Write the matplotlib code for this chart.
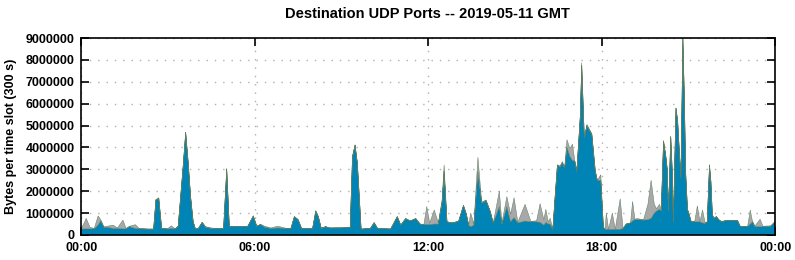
import numpy as np
import matplotlib
matplotlib.use("Agg")
import matplotlib.pyplot as plt

plt.rcParams['font.family'] = ['Liberation Sans', 'DejaVu Sans']

# time of day in hours
hours = [0.00, 0.10, 0.17, 0.30, 0.45, 0.58, 0.67, 0.78, 0.90, 1.10, 1.25, 1.44, 1.55, 1.67, 1.87, 2.00,
         2.30, 2.50, 2.58, 2.68, 2.78, 3.00, 3.11, 3.25, 3.35, 3.52, 3.61, 3.70, 3.78, 3.87, 3.95, 4.05,
         4.18, 4.30, 4.50, 4.70, 4.92, 5.03, 5.12, 5.40, 5.75, 5.95, 6.07, 6.20, 6.35, 6.55, 6.80, 7.10,
         7.25, 7.37, 7.50, 7.62, 8.00, 8.11, 8.20, 8.30, 8.45, 8.60, 9.00, 9.30, 9.38, 9.47, 9.55, 9.63,
         9.68, 10.00, 10.13, 10.25, 10.70, 10.93, 11.05, 11.22, 11.38, 11.57, 11.72, 11.85, 11.95, 12.05,
         12.21, 12.35, 12.48, 12.55, 12.65, 12.80, 13.05, 13.22, 13.32, 13.40, 13.47, 13.58, 13.72, 13.85,
         14.00, 14.14, 14.25, 14.46, 14.55, 14.72, 14.85, 14.97, 15.10, 15.35, 15.55, 15.75, 15.87, 16.00,
         16.07, 16.15, 16.22, 16.31, 16.39, 16.47, 16.56, 16.64, 16.72, 16.80, 16.90, 16.99, 17.07, 17.14,
         17.26, 17.31, 17.37, 17.40, 17.49, 17.57, 17.66, 17.78, 17.85, 17.97, 18.06, 18.12, 18.16, 18.24,
         18.37, 18.47, 18.64, 18.74, 18.85, 19.00, 19.07, 19.15, 19.22, 19.45, 19.60, 19.71, 19.82, 19.90,
         20.00, 20.06, 20.14, 20.22, 20.27, 20.31, 20.39, 20.44, 20.48, 20.57, 20.63, 20.68, 20.74, 20.81,
         20.86, 20.91, 20.97, 21.03, 21.10, 21.22, 21.31, 21.40, 21.49, 21.58, 21.65, 21.73, 21.78, 21.83,
         21.88, 21.97, 22.05, 22.15, 22.30, 22.70, 22.80, 23.05, 23.14, 23.22, 23.30, 23.48, 23.58, 23.85,
         24.00]

# main port (blue), in millions of bytes per slot
blue = [0.28, 0.28, 0.28, 0.28, 0.28, 0.45, 0.65, 0.35, 0.35, 0.30, 0.30, 0.28, 0.28, 0.38, 0.30, 0.28,
        0.27, 0.27, 1.60, 1.67, 0.30, 0.27, 0.30, 0.27, 0.40, 3.10, 4.69, 3.27, 1.75, 0.60, 0.27, 0.30,
        0.58, 0.35, 0.30, 0.30, 0.30, 3.00, 0.40, 0.38, 0.38, 0.87, 0.40, 0.48, 0.35, 0.30, 0.32, 0.30,
        0.30, 0.84, 0.70, 0.30, 0.30, 1.10, 0.84, 0.30, 0.38, 0.32, 0.32, 0.35, 3.57, 4.11, 3.27, 1.43,
        0.27, 0.30, 0.55, 0.30, 0.27, 0.84, 0.45, 0.75, 0.64, 0.75, 0.50, 0.48, 0.48, 0.48,
        0.50, 0.50, 1.50, 2.90, 0.60, 0.55, 0.62, 1.35, 0.95, 0.45, 0.38, 0.45, 2.90, 1.46,
        1.57, 1.10, 0.55, 1.30, 0.50, 1.30, 0.60, 0.80, 0.55, 0.64, 0.60, 0.60, 0.58, 0.45,
        0.58, 0.50, 0.50, 0.26, 1.78, 3.20, 3.10, 3.30, 3.05, 4.00, 3.60, 3.40, 3.38, 2.90,
        5.41, 7.76, 5.56, 4.43, 5.00, 4.80, 4.60, 2.90, 2.50, 2.50, 0.35, 0.26, 0.26, 0.26,
        0.26, 0.26, 0.26, 0.30, 0.50, 0.55, 0.65, 0.70, 0.70, 0.68, 0.70, 0.76, 1.00, 1.10,
        1.17, 1.10, 4.30, 3.60, 3.00, 1.10, 4.50, 3.00, 0.60, 5.80, 5.20, 4.00, 2.60, 9.00,
        6.30, 2.75, 1.17, 0.93, 0.60, 0.60, 0.60, 0.60, 0.55, 0.53, 0.60, 3.20, 2.43, 0.93,
        0.76, 0.84, 0.70, 0.60, 0.66, 0.66, 0.38, 0.38, 0.50, 0.60, 0.38, 0.38, 0.38, 0.40,
        0.60]

# all ports together (top of grey area), in millions of bytes per slot
total = [0.30, 0.55, 0.76, 0.35, 0.30, 0.87, 0.70, 0.38, 0.40, 0.45, 0.32, 0.68, 0.30, 0.40, 0.47, 0.30,
         0.27, 0.27, 1.62, 1.70, 0.30, 0.30, 0.42, 0.28, 0.40, 3.12, 4.70, 3.30, 1.78, 0.62, 0.27, 0.30,
         0.58, 0.38, 0.32, 0.30, 0.30, 3.05, 0.40, 0.38, 0.38, 0.87, 0.40, 0.48, 0.40, 0.32, 0.40, 0.30,
         0.30, 0.84, 0.70, 0.30, 0.30, 1.10, 0.84, 0.32, 0.38, 0.32, 0.34, 0.35, 3.60, 4.12, 3.30, 1.45,
         0.27, 0.30, 0.58, 0.30, 0.28, 0.84, 0.45, 0.75, 0.64, 0.75, 0.50, 0.48, 1.30, 0.55,
         1.14, 0.55, 1.60, 3.20, 0.62, 0.55, 0.62, 1.35, 0.95, 0.45, 1.00, 0.50, 3.55, 1.50,
         1.60, 1.10, 0.55, 2.00, 0.55, 1.75, 0.95, 1.70, 0.58, 1.40, 0.62, 0.65, 1.43, 0.70,
         1.17, 0.60, 0.76, 0.26, 1.78, 3.20, 3.15, 3.35, 3.10, 4.35, 3.95, 4.15, 3.40, 2.95,
         5.45, 7.88, 5.60, 4.45, 5.05, 4.85, 4.62, 2.95, 2.50, 2.75, 0.35, 0.26, 1.00, 0.26,
         1.00, 0.26, 1.65, 0.30, 0.50, 0.55, 1.53, 0.72, 0.75, 0.70, 1.40, 2.50, 1.40, 1.20,
         1.40, 1.15, 4.30, 3.60, 3.00, 1.10, 4.50, 3.00, 0.60, 5.80, 5.20, 4.00, 2.60, 9.00,
         6.30, 2.75, 1.17, 0.93, 0.60, 0.62, 1.33, 0.62, 1.14, 0.55, 0.60, 3.20, 2.43, 0.93,
         0.76, 0.84, 0.70, 0.62, 0.66, 0.66, 0.38, 0.40, 1.14, 0.60, 0.40, 0.72, 0.40, 0.42,
         0.62]

xtick_pos = [0, 6, 12, 18, 24]
xtick_labels = ["00:00", "06:00", "12:00", "18:00", "00:00"]

h = np.array(hours)
b = np.array(blue) * 1e6
other = np.array(total) * 1e6 - b

fig = plt.figure(figsize=(7.95, 2.6), dpi=100)
ax = fig.add_axes([0.1023, 0.0962, 0.8727, 0.7576])

ax.stackplot(h, b, other, colors=['#0083b5', '#a8a8a8'],
             edgecolor=['#5d7f64', '#8c8c8c'], linewidth=0.35)

ax.set_xlim(0, 24)
ax.set_ylim(0, 9000000)
ax.set_xticks(xtick_pos)
ax.set_xticklabels(xtick_labels)
ax.set_yticks(np.arange(0, 9000001, 1000000))
ax.set_yticklabels([str(v) for v in range(0, 9000001, 1000000)])

ax.grid(True, color='#b0b0b0', linestyle=(0, (1, 5)), linewidth=1.0)
ax.set_axisbelow(True)
ax.tick_params(direction='in', length=6, width=1.2, top=True, right=True,
               labelsize=9, pad=5)
for lab in ax.get_xticklabels() + ax.get_yticklabels():
    lab.set_fontweight('bold')
for sp in ax.spines.values():
    sp.set_linewidth(1.2)
    sp.set_zorder(5)

ax.set_ylabel("Bytes per time slot (300 s)", fontsize=9, fontweight='bold', labelpad=6)
fig.suptitle("Destination UDP Ports -- 2019-05-11 GMT", x=0.538, y=0.975,
             fontsize=10.5, fontweight='bold')

fig.savefig("out.png", dpi=100)
